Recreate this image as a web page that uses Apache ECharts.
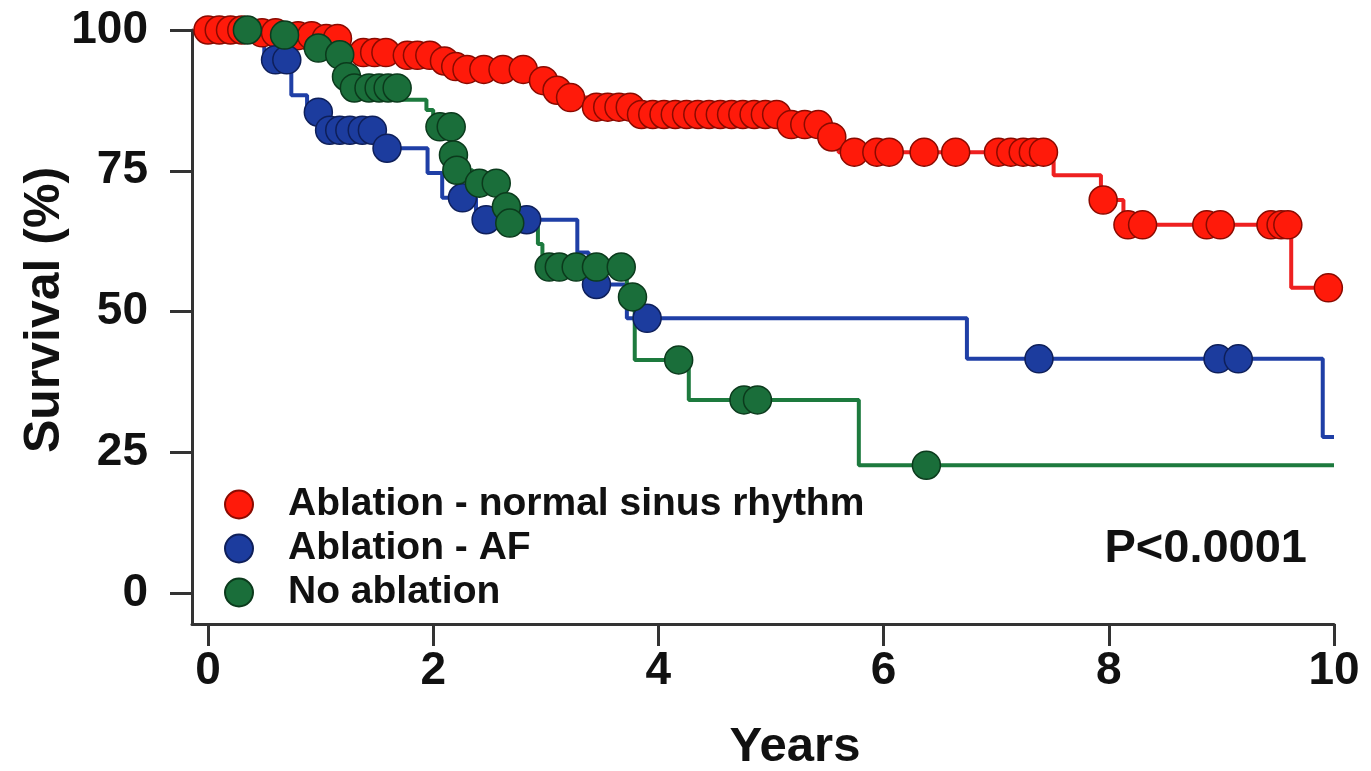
<!DOCTYPE html>
<html>
<head>
<meta charset="utf-8">
<script src="https://cdn.jsdelivr.net/npm/echarts@6/dist/echarts.min.js"></script>
<style>
html,body{margin:0;padding:0;background:#fff;}
#chart{width:1371px;height:771px;}
</style>
</head>
<body>
<div id="chart"></div>
<script>
// ---- Data (time in years, survival in %) ----
var groupNames = ['Ablation - normal sinus rhythm', 'Ablation - AF', 'No ablation'];
var xTicks = [0, 2, 4, 6, 8, 10];
var yTicks = [0, 25, 50, 75, 100];
var pText = 'P<0.0001';

// Kaplan-Meier step curves: [time, survival]
var nsrSteps = [[0,100],[0.4,99.5],[0.7,99],[1.0,98.5],[1.25,96],[1.7,95.5],[2.05,94.5],[2.15,93.5],[2.25,93],[2.9,91],[3.05,89.3],[3.15,88],[3.4,86.3],[3.8,85],[5.1,83.2],[5.5,81],[5.6,78.3],[7.51,74.2],[7.93,69.8],[8.13,65.4],[9.62,54.2],[9.95,54.2]];
var afSteps = [[0,100],[0.5,94.7],[0.74,88.4],[0.88,85.4],[1.03,82.2],[1.52,79],[1.95,74.6],[2.08,70.2],[2.38,66.3],[3.28,60.5],[3.38,54.8],[3.72,48.8],[6.74,41.6],[9.9,27.7],[10,27.7]];
var noSteps = [[0,100],[0.5,99.1],[0.85,96.8],[1.1,95.6],[1.2,91.7],[1.26,89.7],[1.7,87.6],[1.94,85.8],[2.0,82.8],[2.17,77.8],[2.19,75.1],[2.35,72.8],[2.62,68.6],[2.66,65.7],[2.93,62],[2.97,57.9],[3.72,52.6],[3.79,41.4],[4.27,34.3],[5.78,22.7],[10,22.7]];

// Censoring marks: [time, survival]
var nsrCensor = [[0,100],[0.1,100],[0.2,100],[0.3,100],[0.48,99.5],[0.6,99.5],[0.8,99],[0.92,99],[1.05,98.5],[1.15,98.5],[1.38,96],[1.48,96],[1.58,96],[1.77,95.5],[1.86,95.5],[1.97,95.5],[2.1,94.5],[2.2,93.5],[2.3,93],[2.45,93],[2.62,93],[2.8,93],[2.98,91],[3.1,89.3],[3.22,88],[3.45,86.3],[3.55,86.3],[3.65,86.3],[3.75,86.3],[3.85,85],[3.95,85],[4.05,85],[4.15,85],[4.25,85],[4.35,85],[4.45,85],[4.55,85],[4.65,85],[4.75,85],[4.85,85],[4.95,85],[5.05,85],[5.18,83.2],[5.3,83.2],[5.42,83.2],[5.54,81],[5.74,78.3],[5.94,78.3],[6.05,78.3],[6.36,78.3],[6.64,78.3],[7.02,78.3],[7.13,78.3],[7.24,78.3],[7.33,78.3],[7.42,78.3],[7.95,69.8],[8.17,65.4],[8.3,65.4],[8.87,65.4],[8.99,65.4],[9.44,65.4],[9.53,65.4],[9.59,65.4],[9.95,54.2]];
var afCensor = [[0.6,94.7],[0.7,94.7],[0.98,85.4],[1.08,82.2],[1.17,82.2],[1.26,82.2],[1.37,82.2],[1.46,82.2],[1.59,79],[2.26,70.2],[2.47,66.3],[2.83,66.3],[3.45,54.8],[3.9,48.8],[7.38,41.6],[8.97,41.6],[9.15,41.6]];
var noCensor = [[0.35,100],[0.68,99.1],[0.98,96.8],[1.17,95.6],[1.23,91.7],[1.3,89.7],[1.43,89.7],[1.52,89.7],[1.6,89.7],[1.68,89.7],[2.06,82.8],[2.16,82.8],[2.18,77.8],[2.21,75.1],[2.41,72.8],[2.56,72.8],[2.65,68.6],[2.68,65.7],[3.03,57.9],[3.12,57.9],[3.27,57.9],[3.45,57.9],[3.67,57.9],[3.77,52.6],[4.18,41.4],[4.76,34.3],[4.88,34.3],[6.38,22.7]];

// ---- Styles ----
var FONT = '"Liberation Sans", Arial, sans-serif';
var lineColors = ['#ee2020', '#1f3fa6', '#1d7a3e'];
var fillColors = ['#ff1a0a', '#1c3c9e', '#1a6e3a'];
var borderColors = ['#8a0a00', '#0e1f5a', '#0b3a1c'];

function stepSeries(name, data, i) {
  return {
    name: name, type: 'line', step: 'end', data: data,
    showSymbol: false, symbol: 'none', z: 2 + i,
    lineStyle: { color: lineColors[i], width: 4 },
    itemStyle: { color: lineColors[i] },
    silent: true
  };
}
function censorSeries(name, data, i) {
  return {
    name: name, type: 'scatter', data: data, symbol: 'circle', symbolSize: 28,
    clip: false, z: 5 + i,
    itemStyle: { color: fillColors[i], borderColor: borderColors[i], borderWidth: 1.5, opacity: 1 }
  };
}

var chart = echarts.init(document.getElementById('chart'), null, { renderer: 'canvas' });
chart.setOption({
  animation: false,
  backgroundColor: '#fff',
  grid: { left: 192, right: 37, top: 30, bottom: 147, containLabel: false, outerBoundsMode: 'none' },
  legend: {
    data: groupNames.map(function (n) { return { name: n, icon: 'circle' }; }),
    orient: 'vertical', left: 219, top: 480,
    itemWidth: 28, itemHeight: 28, itemGap: 5,
    selectedMode: false,
    textStyle: { fontFamily: FONT, fontWeight: 'bold', fontSize: 39, color: '#111', padding: [0, 0, 0, 30] }
  },
  xAxis: {
    type: 'value', min: -0.142, max: 10,
    name: 'Years', nameLocation: 'middle', nameGap: 99, nameMoveOverlap: false,
    nameTextStyle: { fontFamily: FONT, fontWeight: 'bold', fontSize: 49, color: '#111', padding: [0, 0, 0, 64] },
    axisLine: { show: true, onZero: false, lineStyle: { color: '#333', width: 3 } },
    axisTick: { show: true, length: 22, lineStyle: { color: '#333', width: 3 }, customValues: xTicks },
    axisLabel: { fontFamily: FONT, fontWeight: 'bold', fontSize: 46, color: '#111', margin: 24, customValues: xTicks },
    splitLine: { show: false }
  },
  yAxis: {
    type: 'value', min: -5.5, max: 100,
    name: 'Survival (%)', nameLocation: 'middle', nameGap: 122, nameMoveOverlap: false,
    nameTextStyle: { fontFamily: FONT, fontWeight: 'bold', fontSize: 50, color: '#111', padding: [0, 0, 0, 34] },
    axisLine: { show: true, onZero: false, lineStyle: { color: '#333', width: 3 } },
    axisTick: { show: true, length: 22, lineStyle: { color: '#333', width: 3 }, customValues: yTicks },
    axisLabel: { fontFamily: FONT, fontWeight: 'bold', fontSize: 46, color: '#111', margin: 44, customValues: yTicks },
    splitLine: { show: false }
  },
  graphic: [{
    type: 'text', right: 64, top: 526,
    style: { text: pText, font: 'bold 47px ' + FONT, fill: '#111' }
  }],
  series: [
    stepSeries('nsr-curve', nsrSteps, 0),
    stepSeries('af-curve', afSteps, 1),
    stepSeries('no-curve', noSteps, 2),
    censorSeries(groupNames[0], nsrCensor, 0),
    censorSeries(groupNames[1], afCensor, 1),
    censorSeries(groupNames[2], noCensor, 2)
  ]
});
</script>
</body>
</html>
